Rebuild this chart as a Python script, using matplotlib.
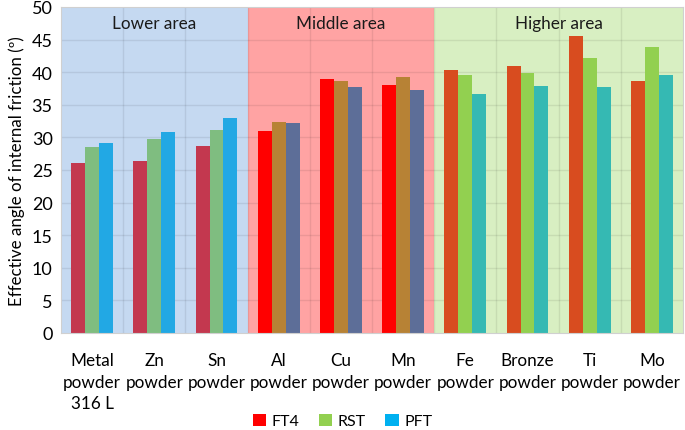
import matplotlib
matplotlib.use("Agg")
import matplotlib.pyplot as plt
from matplotlib.patches import Patch
import numpy as np

plt.rcParams['font.family'] = ['Lato', 'DejaVu Sans']

categories = ["Metal\npowder\n316 L", "Zn\npowder", "Sn\npowder", "Al\npowder", "Cu\npowder",
              "Mn\npowder", "Fe\npowder", "Bronze\npowder", "Ti\npowder", "Mo\npowder"]
ft4 = [26.0, 26.4, 28.7, 31.0, 39.0, 38.0, 40.4, 41.0, 45.5, 38.6]
rst = [28.5, 29.8, 31.1, 32.4, 38.7, 39.3, 39.6, 39.9, 42.2, 43.8]
pft = [29.1, 30.9, 32.9, 32.2, 37.8, 37.3, 36.7, 37.9, 37.7, 39.5]

areas = ["Lower area", "Middle area", "Higher area"]
area_groups = [[0, 1, 2], [3, 4, 5], [6, 7, 8, 9]]
area_bg = ["#C5D9F1", "#FFA3A3", "#D8EFC2"]
area_colors = [
    ["#C3384F", "#7FBD80", "#22A8E4"],
    ["#FF0000", "#B78235", "#5D6E98"],
    ["#D84C1F", "#92D050", "#35B9B3"],
]
legend_labels = ["FT4", "RST", "PFT"]
legend_colors = ["#FF0000", "#92D050", "#00B0F0"]

fig = plt.figure(figsize=(6.85, 4.31), dpi=100)
ax = fig.add_axes([61/685, (431-334)/431, (683-61)/685, (334-8)/431])

x = np.arange(len(categories))
w = 0.225
series = [ft4, rst, pft]

for ai, grp in enumerate(area_groups):
    lo, hi = grp[0] - 0.5, grp[-1] + 0.5
    ax.axvspan(lo, hi, color=area_bg[ai], zorder=0, lw=0)
    ax.text((lo + hi) / 2, 47.6, areas[ai], ha='center', va='center', fontsize=12.3, color='#1a1a1a', zorder=3)
    for si in range(3):
        vals = [series[si][g] for g in grp]
        ax.bar(x[grp] + (si - 1) * w, vals, width=w, color=area_colors[ai][si], zorder=2, lw=0)

ax.set_xlim(-0.5, 9.5)
ax.set_ylim(0, 50)
ax.set_yticks(np.arange(0, 51, 5))
ax.set_xticks(x)
ax.set_xticklabels(categories, fontsize=12.3, linespacing=1.42)
ax.tick_params(axis='y', labelsize=13, length=0, pad=6)
ax.tick_params(axis='x', length=0, pad=14)
for yv in np.arange(5, 50, 5):
    ax.axhline(yv, color='#000000', alpha=0.08, lw=1, zorder=1)
for xv in np.arange(0.5, 9.5, 1):
    ax.axvline(xv, color='#000000', alpha=0.08, lw=1, zorder=1)
for sp in ax.spines.values():
    sp.set_color('#D0D0D0')
    sp.set_linewidth(0.8)
ax.set_ylabel("Effective angle of internal friction (º)", fontsize=12.2, labelpad=5)

handles = [Patch(facecolor=c, edgecolor='none') for c in legend_colors]
fig.legend(handles, legend_labels, loc='center', bbox_to_anchor=(0.5, 9/431),
           bbox_transform=fig.transFigure, ncol=3, frameon=False, fontsize=11.5,
           handlelength=0.85, handleheight=0.85, handletextpad=0.35, columnspacing=1.2,
           borderpad=0)

fig.savefig("out.png", dpi=100)
